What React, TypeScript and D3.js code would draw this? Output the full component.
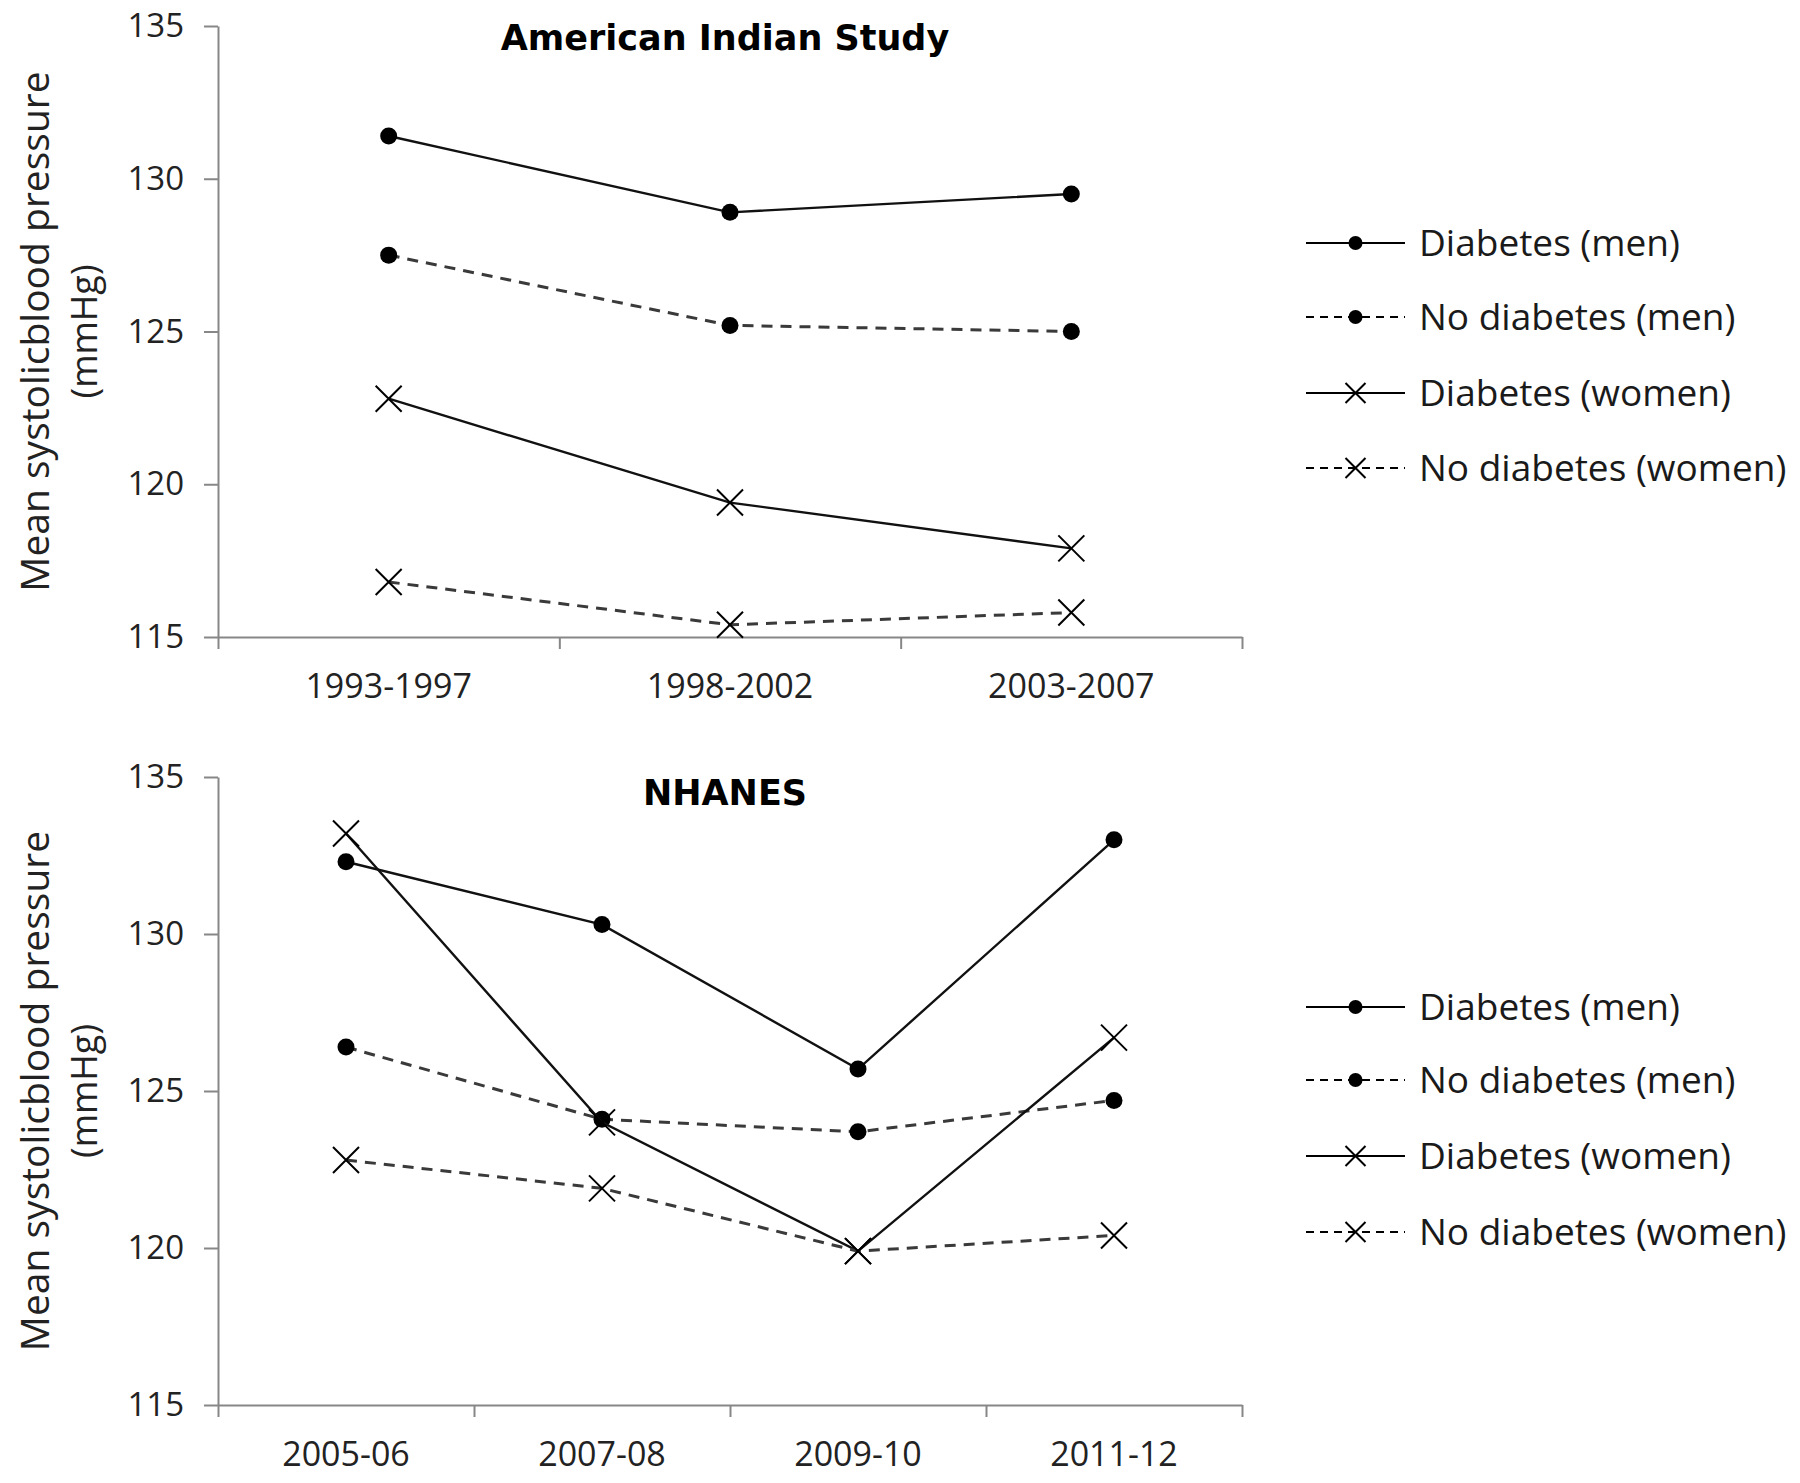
import React, { useRef, useEffect } from "react";
import * as d3 from "d3";

// values
const seriesNames = ["Diabetes (men)", "No diabetes (men)", "Diabetes (women)", "No diabetes (women)"];
const yTicks = [115, 120, 125, 130, 135];

const aisCategories = ["1993-1997", "1998-2002", "2003-2007"];
const aisDiabetesMen = [131.4, 128.9, 129.5];
const aisNoDiabetesMen = [127.5, 125.2, 125.0];
const aisDiabetesWomen = [122.8, 119.4, 117.9];
const aisNoDiabetesWomen = [116.8, 115.4, 115.8];

const nhCategories = ["2005-06", "2007-08", "2009-10", "2011-12"];
const nhDiabetesMen = [132.3, 130.3, 125.7, 133.0];
const nhNoDiabetesMen = [126.4, 124.1, 123.7, 124.7];
const nhDiabetesWomen = [133.2, 124.0, 119.9, 126.7];
const nhNoDiabetesWomen = [122.8, 121.9, 119.9, 120.4];

const W = 1800;
const H = 1483;
const FONT = "'Open Sans', 'Noto Sans', sans-serif";
const AXIS = "#878787";

const styles = [
  { dashed: false, marker: "dot" },
  { dashed: true, marker: "dot" },
  { dashed: false, marker: "x" },
  { dashed: true, marker: "x" },
];

const panels = [
  {
    title: "American Indian Study",
    categories: aisCategories,
    series: [aisDiabetesMen, aisNoDiabetesMen, aisDiabetesWomen, aisNoDiabetesWomen],
    yRange: [637, 26],
    titleY: 50,
    legendY: [243, 317, 393, 468],
  },
  {
    title: "NHANES",
    categories: nhCategories,
    series: [nhDiabetesMen, nhNoDiabetesMen, nhDiabetesWomen, nhNoDiabetesWomen],
    yRange: [1405, 777],
    titleY: 805,
    legendY: [1007, 1080, 1156, 1232],
  },
];

const drawMarker = (g, type, cx, cy, r, sw) => {
  if (type === "dot") {
    g.append("circle").attr("cx", cx).attr("cy", cy).attr("r", r).attr("fill", "#000");
  } else {
    g.append("path")
      .attr("d", `M${cx - r},${cy - r}L${cx + r},${cy + r}M${cx - r},${cy + r}L${cx + r},${cy - r}`)
      .attr("stroke", "#000")
      .attr("stroke-width", sw)
      .attr("fill", "none");
  }
};

const App = () => {
  const svgRef = useRef(null);

  useEffect(() => {
    const svg = d3.select(svgRef.current);
    svg.selectAll("*").remove();

    const left = 218;
    const right = 1242;

    panels.forEach((p) => {
      const g = svg.append("g");
      const y = d3.scaleLinear().domain([115, 135]).range(p.yRange);
      const x = d3.scaleBand().domain(p.categories).range([left, right]).padding(0);
      const cx = (c) => x(c) + x.bandwidth() / 2;
      const edges = d3.scaleLinear().domain([0, p.categories.length]).range([left, right]);

      // y axis
      const ya = g.append("g")
        .attr("transform", `translate(${left},0)`)
        .call(d3.axisLeft(y).tickValues(yTicks).tickSize(14).tickPadding(20).tickSizeOuter(0));
      ya.select(".domain").attr("stroke", AXIS).attr("stroke-width", 2);
      ya.selectAll(".tick line").attr("stroke", AXIS).attr("stroke-width", 2);
      ya.selectAll("text").attr("font-family", FONT).attr("font-size", 33).attr("fill", "#222");

      // x axis with ticks at band edges
      const xa = g.append("g")
        .attr("transform", `translate(0,${p.yRange[0]})`)
        .call(d3.axisBottom(edges).tickValues(d3.range(p.categories.length + 1)).tickFormat(() => "").tickSize(12).tickSizeOuter(0));
      xa.select(".domain").attr("stroke", AXIS).attr("stroke-width", 2);
      xa.selectAll(".tick line").attr("stroke", AXIS).attr("stroke-width", 2);

      const xl = g.append("g")
        .attr("transform", `translate(0,${p.yRange[0]})`)
        .call(d3.axisBottom(x).tickSize(0).tickPadding(37));
      xl.select(".domain").remove();
      xl.selectAll("text").attr("font-family", FONT).attr("font-size", 34).attr("fill", "#222");

      // y axis title
      const midY = (p.yRange[0] + p.yRange[1]) / 2;
      g.append("text")
        .attr("transform", `translate(49,${midY}) rotate(-90)`)
        .attr("text-anchor", "middle")
        .attr("font-family", FONT)
        .attr("font-size", 39)
        .attr("fill", "#222")
        .text("Mean systolicblood pressure");
      g.append("text")
        .attr("transform", `translate(97,${midY}) rotate(-90)`)
        .attr("text-anchor", "middle")
        .attr("font-family", FONT)
        .attr("font-size", 36)
        .attr("fill", "#222")
        .text("(mmHg)");

      // title
      g.append("text")
        .attr("x", 725)
        .attr("y", p.titleY)
        .attr("text-anchor", "middle")
        .attr("font-family", "'DejaVu Sans', Verdana, sans-serif")
        .attr("font-weight", "bold")
        .attr("font-size", 35)
        .attr("fill", "#000")
        .text(p.title);

      // series
      const line = d3.line().x((d) => cx(d.c)).y((d) => y(d.v));
      p.series.forEach((vals, i) => {
        const st = styles[i];
        const pts = vals.map((v, j) => ({ c: p.categories[j], v }));
        g.append("path")
          .attr("d", line(pts))
          .attr("fill", "none")
          .attr("stroke", st.dashed ? "#3a3a3a" : "#111")
          .attr("stroke-width", st.dashed ? 3 : 2.4)
          .attr("stroke-dasharray", st.dashed ? "11,8" : null);
        pts.forEach((d) => drawMarker(g, st.marker, cx(d.c), y(d.v), st.marker === "dot" ? 8.5 : 13, 2));
      });

      // legend
      const lx0 = 1306;
      const lx1 = 1405;
      seriesNames.forEach((name, i) => {
        const st = styles[i];
        const ly = p.legendY[i];
        g.append("line")
          .attr("x1", lx0).attr("x2", lx1).attr("y1", ly).attr("y2", ly)
          .attr("stroke", "#000")
          .attr("stroke-width", 2)
          .attr("stroke-dasharray", st.dashed ? "8,6" : null);
        drawMarker(g, st.marker, (lx0 + lx1) / 2, ly, st.marker === "dot" ? 7 : 10, 2);
        g.append("text")
          .attr("x", 1419)
          .attr("y", ly)
          .attr("dy", "0.35em")
          .attr("font-family", FONT)
          .attr("font-size", 37)
          .attr("fill", "#1a1a1a")
          .text(name);
      });
    });
  }, []);

  return (
    <div style={{ position: "absolute", left: 0, top: 0, width: W, height: H, background: "#fff" }}>
      <svg ref={svgRef} width={W} height={H} style={{ display: "block" }}></svg>
    </div>
  );
};

export default App;
